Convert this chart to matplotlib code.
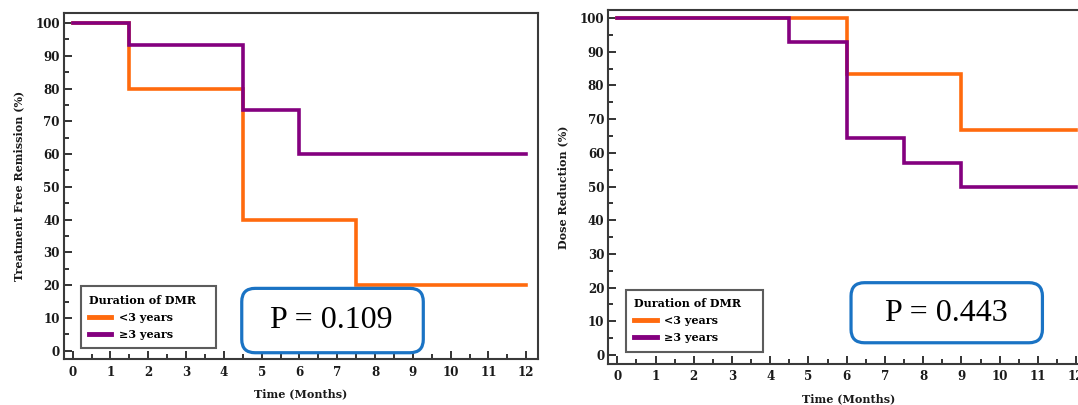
import matplotlib
matplotlib.use("Agg")
import matplotlib.pyplot as plt
from matplotlib.patches import FancyBboxPatch
from matplotlib.ticker import MultipleLocator

plt.rcParams['font.family'] = ['DejaVu Serif']

# ---- data ----
groups = ["<3 years", "\u22653 years"]
colors = ["#ff6a0e", "#84007f"]

tfr_lt3_t = [0, 1.5, 4.5, 7.5, 12]
tfr_lt3_v = [100, 80, 40, 20, 20]
tfr_ge3_t = [0, 1.5, 4.5, 6, 12]
tfr_ge3_v = [100, 93.3, 73.3, 60, 60]

dr_lt3_t = [0, 6, 9, 12]
dr_lt3_v = [100, 83.3, 66.7, 66.7]
dr_ge3_t = [0, 4.5, 6, 7.5, 9, 12]
dr_ge3_v = [100, 92.9, 64.3, 57.1, 50, 50]

p_values = ["P = 0.109", "P = 0.443"]
ylabels = ["Treatment Free Remission (%)", "Dose Reduction (%)"]
xlabel = "Time (Months)"
legend_title = "Duration of DMR"

W, H = 1078, 405
fig = plt.figure(figsize=(W / 100, H / 100), dpi=100)

def px_axes(l, t, r, b):
    return fig.add_axes([l / W, 1 - b / H, (r - l) / W, (b - t) / H])

ax1 = px_axes(64, 13.3, 538, 359.3)
ax2 = px_axes(608.3, 10, 1088, 364)

panels = [
    (ax1, [(tfr_lt3_t, tfr_lt3_v), (tfr_ge3_t, tfr_ge3_v)], (-0.23, 12.31), (-2.62, 102.96),
     (0.035, 0.032, 0.285, 0.2), (0.375, 0.019, 0.758, 0.205), (0.565, 0.113)),
    (ax2, [(dr_lt3_t, dr_lt3_v), (dr_ge3_t, dr_ge3_v)], (-0.235, 12.31), (-2.67, 102.4),
     (0.037, 0.035, 0.285, 0.2), (0.506, 0.060, 0.905, 0.2297), (0.704, 0.144)),
]

for i, (ax, series, xl, yl, legbox, pbox, ptxt) in enumerate(panels):
    for (t, v), c, g in zip(series, colors, groups):
        ax.step(t, v, where='post', color=c, lw=2.6, label=g, solid_joinstyle='miter')
    ax.set_xlim(*xl)
    ax.set_ylim(*yl)
    ax.xaxis.set_minor_locator(MultipleLocator(0.5))
    ax.yaxis.set_minor_locator(MultipleLocator(5))
    ax.set_xticks(range(0, 13))
    ax.set_yticks(range(0, 101, 10))
    ax.tick_params(which='both', direction='in', top=False, right=False,
                   color='#333333', width=1.4)
    ax.tick_params(which='major', length=6)
    ax.tick_params(which='minor', length=3.5)
    ax.tick_params(axis='x', pad=4.5)
    ax.tick_params(axis='y', pad=3)
    for lab in ax.get_xticklabels() + ax.get_yticklabels():
        lab.set_fontweight('bold')
        lab.set_fontsize(8.6)
        lab.set_color('#1a1a1a')
    for sp in ax.spines.values():
        sp.set_color('#3a3a3a')
        sp.set_linewidth(1.5)
    ax.set_xlabel(xlabel, fontsize=8, fontweight='bold', labelpad=7, color='#1a1a1a')
    ax.set_ylabel(ylabels[i], fontsize=8, fontweight='bold', labelpad=8, color='#1a1a1a')

    leg = ax.legend(title=legend_title, loc='lower left', bbox_to_anchor=legbox,
                    mode='expand', borderaxespad=0, fancybox=False, frameon=True,
                    prop={'weight': 'bold', 'size': 8},
                    title_fontproperties={'weight': 'bold', 'size': 8},
                    handlelength=2.0, handletextpad=0.7, borderpad=0.75,
                    labelspacing=0.55, alignment='left')
    leg.get_frame().set_edgecolor('#333333')
    leg.get_frame().set_linewidth(1.5)
    for ln in leg.get_lines():
        ln.set_linewidth(3.5)

    bb = ax.get_window_extent()
    aspect = bb.width / bb.height
    x0, y0, x1, y1 = pbox
    patch = FancyBboxPatch((x0, y0), x1 - x0, y1 - y0,
                           boxstyle='round,pad=0,rounding_size=0.028',
                           mutation_aspect=aspect,
                           transform=ax.transAxes, facecolor='white',
                           edgecolor='#1a73c4', linewidth=2.3, zorder=5,
                           clip_on=False)
    ax.add_patch(patch)
    ax.text(ptxt[0], ptxt[1], p_values[i], transform=ax.transAxes,
            ha='center', va='center', fontsize=23, color='black', zorder=6,
            family='Liberation Serif')

fig.savefig("out.png", dpi=100)
